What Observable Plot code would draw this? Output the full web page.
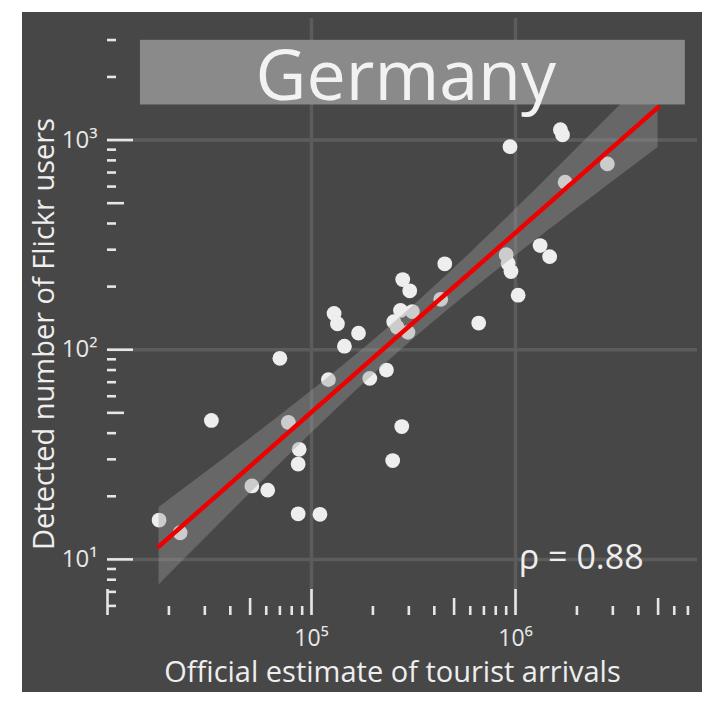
<!DOCTYPE html>
<html><head><meta charset="utf-8">
<script src="https://cdn.jsdelivr.net/npm/d3@7"></script>
<script src="https://cdn.jsdelivr.net/npm/@observablehq/plot@0.6"></script>
<style>
body{margin:0;background:#fff;width:715px;height:702px;overflow:hidden;}
#chart{position:absolute;left:22px;top:12px;}
</style></head><body><div id="chart"></div>
<script>
// ---- data ----
const country = "Germany";
const xLabel = "Official estimate of tourist arrivals";
const yLabel = "Detected number of Flickr users";
const rhoLabel = "ρ = 0.88";
const arrivals = [1660000,1700000,940000,2820000,1750000,1320000,1470000,900000,920000,950000,1030000,
  450000,430000,660000,280000,303000,273000,312000,253000,263000,297000,
  129000,134000,170000,145000,70000,121000,193000,233000,
  32300,77000,277000,87000,86000,250000,51000,61000,86000,110000,17900,22700,5000000];
const flickrUsers = [1120,1060,930,770,630,314,278,284,258,236,182,
  257,174,134,216,191,154,152,136,128,121,
  149,133,120,104,91,72,73,80,
  46,45,43,33.5,28.5,29.6,22.4,21.4,16.5,16.4,15.4,13.4,2600];
const xTickLabels = [1e5, 1e6];
const yTickLabels = [1e1, 1e2, 1e3];
const xDomain = [1e4, 7.8e6];
const yDomain = [5.4, 3800];

// ---- layout ----
const W = 680, H = 680, mL = 85, mR = 5, mT = 6, mB = 77;
const fW = W - mL - mR, fH = H - mT - mB;
const sup = {1:"\u00b9",2:"\u00b2",3:"\u00b3",4:"\u2074",5:"\u2075",6:"\u2076"};
const fmt = d => "10" + sup[Math.round(Math.log10(d))];

function logTicks([a, b]) {
  const out = {long: [], mid: [], short: []};
  for (let k = Math.floor(Math.log10(a)); k <= Math.ceil(Math.log10(b)); k++) {
    for (let m = 1; m <= 9; m++) {
      const v = m * 10 ** k;
      if (v < a * 0.999 || v > b) continue;
      (m === 1 ? out.long : m === 5 ? out.mid : out.short).push(v);
    }
  }
  return out;
}
const xt = logTicks(xDomain), yt = logTicks(yDomain);
const tickLen = {short: 9, mid: 17, long: 26};

// ---- regression in log-log space with 95% CI ----
const pts = arrivals.map((x, i) => ({x, y: flickrUsers[i]}));
const lx = arrivals.map(Math.log10), ly = flickrUsers.map(Math.log10);
const n = lx.length, mx = d3.mean(lx), my = d3.mean(ly);
const sxx = d3.sum(lx, v => (v - mx) ** 2);
const sxy = d3.sum(lx.map((v, i) => (v - mx) * (ly[i] - my)));
const slope = sxy / sxx, icpt = my - slope * mx;
const s = Math.sqrt(d3.sum(lx.map((v, i) => (ly[i] - icpt - slope * v) ** 2)) / (n - 2));
const tcrit = 2.021;
const [lo, hi] = d3.extent(lx);
const fit = d3.range(101).map(i => {
  const v = lo + (hi - lo) * i / 100, f = icpt + slope * v;
  const se = s * Math.sqrt(1 / n + (v - mx) ** 2 / sxx);
  return {x: 10 ** v, y: 10 ** f, y1: 10 ** (f - tcrit * se), y2: 10 ** (f + tcrit * se)};
});

const tickStyle = {stroke: "#e6e6e6", strokeWidth: 2.6};
const marks = [
  Plot.gridX(xTickLabels, {stroke: "#5c5c5c", strokeOpacity: 1, strokeWidth: 3.5}),
  Plot.gridY(yTickLabels, {stroke: "#5c5c5c", strokeOpacity: 1, strokeWidth: 3.5}),
];
for (const kind of ["short", "mid", "long"]) {
  marks.push(Plot.ruleX(xt[kind], {x: d => d, insetTop: fH - tickLen[kind], ...tickStyle}));
  marks.push(Plot.ruleY(yt[kind], {y: d => d, insetRight: fW - tickLen[kind], ...tickStyle}));
}
marks.push(
  Plot.dot(pts, {x: "x", y: "y", r: 7.4, fill: "#eeeeee", stroke: "none"}),
  Plot.areaY(fit, {x: "x", y1: "y1", y2: "y2", fill: "#999999", fillOpacity: 0.4, clip: true}),
  Plot.line(fit, {x: "x", y: "y", stroke: "#ee0000", strokeWidth: 4.5, clip: true}),
  Plot.rect([country], {x1: 1.45e4, x2: 6.8e6, y1: 1470, y2: 2990, fill: "#8a8a8a"}),
  Plot.text([country], {x: 2.9e5, y: 1550, text: d => d, fontSize: 70, fill: "#f2f2f2", lineAnchor: "bottom"}),
  Plot.text([rhoLabel], {x: 2.1e6, y: 9, text: d => d, fontSize: 34, fill: "#eeeeee", lineAnchor: "bottom"}),
  Plot.axisY(yTickLabels, {tickSize: 0, tickPadding: 10, tickFormat: fmt, fontSize: 24, label: null, fill: "#e8e8e8"}),
  Plot.axisX(xTickLabels, {tickSize: 0, tickPadding: 14, tickFormat: fmt, fontSize: 23, label: null, fill: "#e8e8e8"}),
  Plot.text([xLabel], {frameAnchor: "bottom", textAnchor: "middle", text: d => d, dy: 66, dx: -10, fontSize: 29, fill: "#eeeeee", lineAnchor: "bottom"}),
  Plot.text([yLabel], {frameAnchor: "left", textAnchor: "middle", text: d => d, rotate: -90, dx: -63, dy: 17, fontSize: 29, fill: "#eeeeee"})
);

const chart = Plot.plot({
  width: W, height: H,
  marginLeft: mL, marginRight: mR, marginTop: mT, marginBottom: mB,
  x: {type: "log", domain: xDomain},
  y: {type: "log", domain: yDomain},
  style: {background: "#474747", color: "#e8e8e8", fontFamily: "'Open Sans', sans-serif"},
  marks
});
document.getElementById("chart").append(chart);
</script>
</body></html>
